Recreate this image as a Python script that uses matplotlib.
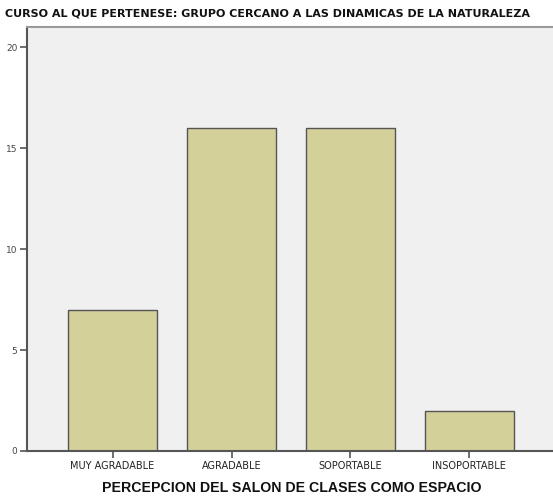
import matplotlib
matplotlib.use("Agg")
import matplotlib.pyplot as plt
import numpy as np

# datos
categorias = ["MUY AGRADABLE", "AGRADABLE", "SOPORTABLE", "INSOPORTABLE"]
frecuencias = [7, 16, 16, 2]
y_ticks = [0, 5, 10, 15, 20]

titulo = "CURSO AL QUE PERTENESE: GRUPO CERCANO A LAS DINAMICAS DE LA NATURALEZA"
etiqueta_x = "PERCEPCION DEL SALON DE CLASES COMO ESPACIO"

narrow = ["Liberation Sans Narrow", "DejaVu Sans Condensed", "DejaVu Sans"]

fig = plt.figure(figsize=(5.53, 4.99), dpi=100)
ax = fig.add_axes([27 / 553, 1 - 451 / 499, 528 / 553, 424 / 499])
ax.set_facecolor("#f0f0f0")

x = np.arange(len(categorias))
ax.bar(x, frecuencias, width=0.75, color="#d4d09a", edgecolor="#555555", linewidth=1.0, zorder=2)

ax.set_xlim(-0.72, 3.72)
ax.set_ylim(0, 21)
ax.set_yticks(y_ticks)
ax.set_xticks(x)
ax.set_xticklabels(categorias, family=narrow, fontsize=7)
for lab in ax.get_yticklabels():
    lab.set_family(narrow)
    lab.set_fontsize(6.5)
    lab.set_color("#444444")
for lab in ax.get_xticklabels():
    lab.set_color("#222222")

ax.tick_params(axis="both", direction="out", length=5, width=1.2, color="#555555", pad=2)
ax.spines["left"].set_color("#555555")
ax.spines["left"].set_linewidth(1.5)
ax.spines["bottom"].set_color("#555555")
ax.spines["bottom"].set_linewidth(1.5)
ax.spines["top"].set_color("#999999")
ax.spines["top"].set_linewidth(1.5)
ax.spines["right"].set_visible(False)

fig.text(5 / 553, 1 - 14 / 499, titulo, family=narrow, fontsize=8.0, fontweight="bold",
         ha="left", va="center", color="#111111")
fig.text(292 / 553, 1 - 488 / 499, etiqueta_x, family=["Liberation Sans", "DejaVu Sans"],
         fontsize=10.2, fontweight="bold", ha="center", va="center", color="#111111")

fig.savefig("out.png", dpi=100)
